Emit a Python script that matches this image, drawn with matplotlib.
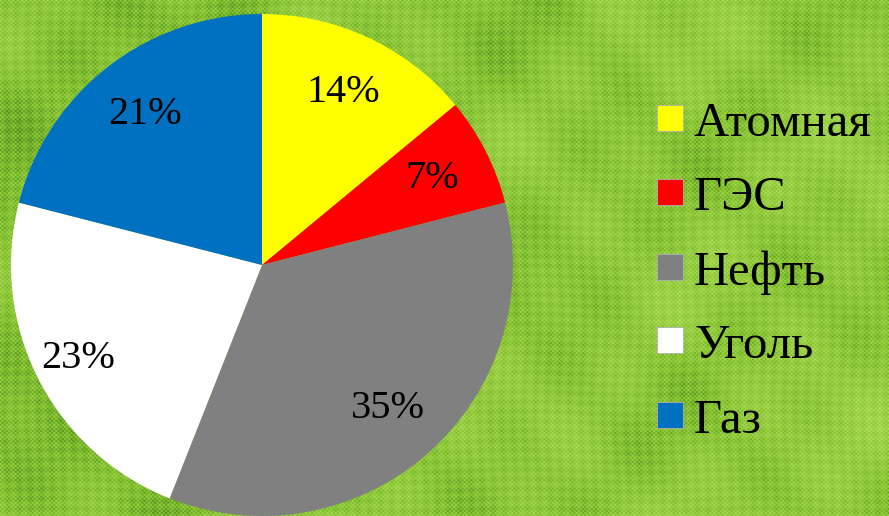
import numpy as np
import matplotlib
matplotlib.use("Agg")
import matplotlib.pyplot as plt
from matplotlib.patches import Rectangle

# доли выработки электроэнергии, %
labels = ["Атомная", "ГЭС", "Нефть", "Уголь", "Газ"]
shares = [14, 7, 35, 23, 21]
colors = ["#FFFF00", "#FF0000", "#808080", "#FFFFFF", "#0070C0"]

W, H = 889, 516
fig = plt.figure(figsize=(W / 100, H / 100), dpi=100)

# фон: зелёная ткань
yy, xx = np.mgrid[0:H, 0:W].astype(float)
weave = np.cos(2 * np.pi * xx / 4.3) * np.cos(2 * np.pi * yy / 4.1)
threads = 0.5 * np.cos(2 * np.pi * yy / 9.7 + np.sin(xx / 37)) + 0.5 * np.cos(2 * np.pi * xx / 11.3 + np.sin(yy / 29))
blotch = (np.sin(xx / 53 + 1.3) * np.cos(yy / 41 - 0.7) + 0.6 * np.sin(xx / 23 + yy / 31)
          + 0.5 * np.cos(xx / 17 - yy / 19 + 2.1))
light = 0.50 + 0.16 * weave + 0.08 * threads + 0.07 * blotch + 0.10 * (xx / W)
light = np.clip(light, 0.1, 1.0)
base = np.array([135, 195, 50]) / 255.0
dark = np.array([40, 105, 20]) / 255.0
hi = np.array([190, 232, 105]) / 255.0
t = light[..., None]
img = np.where(t < 0.5, dark + (base - dark) * (t / 0.5), base + (hi - base) * ((t - 0.5) / 0.5))
bg = fig.add_axes([0, 0, 1, 1])
bg.imshow(np.clip(img, 0, 1), aspect="auto", interpolation="bilinear")
bg.axis("off")

# круговая диаграмма
cx, cy, r = 262, 265, 251
ax = fig.add_axes([(cx - r) / W, (H - cy - r) / H, 2 * r / W, 2 * r / H])
wedges, texts, autotexts = ax.pie(
    shares, colors=colors, startangle=90, counterclock=False, radius=1,
    autopct="%d%%", pctdistance=0.76,
    textprops=dict(fontsize=29, family="Liberation Serif", color="black"),
    wedgeprops=dict(linewidth=0))
# подпись угля чуть дальше от центра
x, y = autotexts[3].get_position()
autotexts[3].set_position((x * 0.82 / 0.76, y * 0.82 / 0.76))
ax.set_xlim(-1, 1)
ax.set_ylim(-1, 1)
ax.set_aspect("equal")
ax.axis("off")

# легенда справа
row_y = [118, 192, 267, 340, 415]
for c, lab, ry in zip(colors, labels, row_y):
    fig.patches.append(Rectangle((657 / W, 1 - (ry + 13) / H), 26 / W, 26 / H,
                                 transform=fig.transFigure, facecolor=c,
                                 edgecolor="#b0b0b0", linewidth=0.6))
    fig.text(694 / W, 1 - (ry + 1) / H, lab, fontsize=35, family="Liberation Serif",
             va="center_baseline", ha="left", color="black")

fig.savefig("out.png", dpi=100)
